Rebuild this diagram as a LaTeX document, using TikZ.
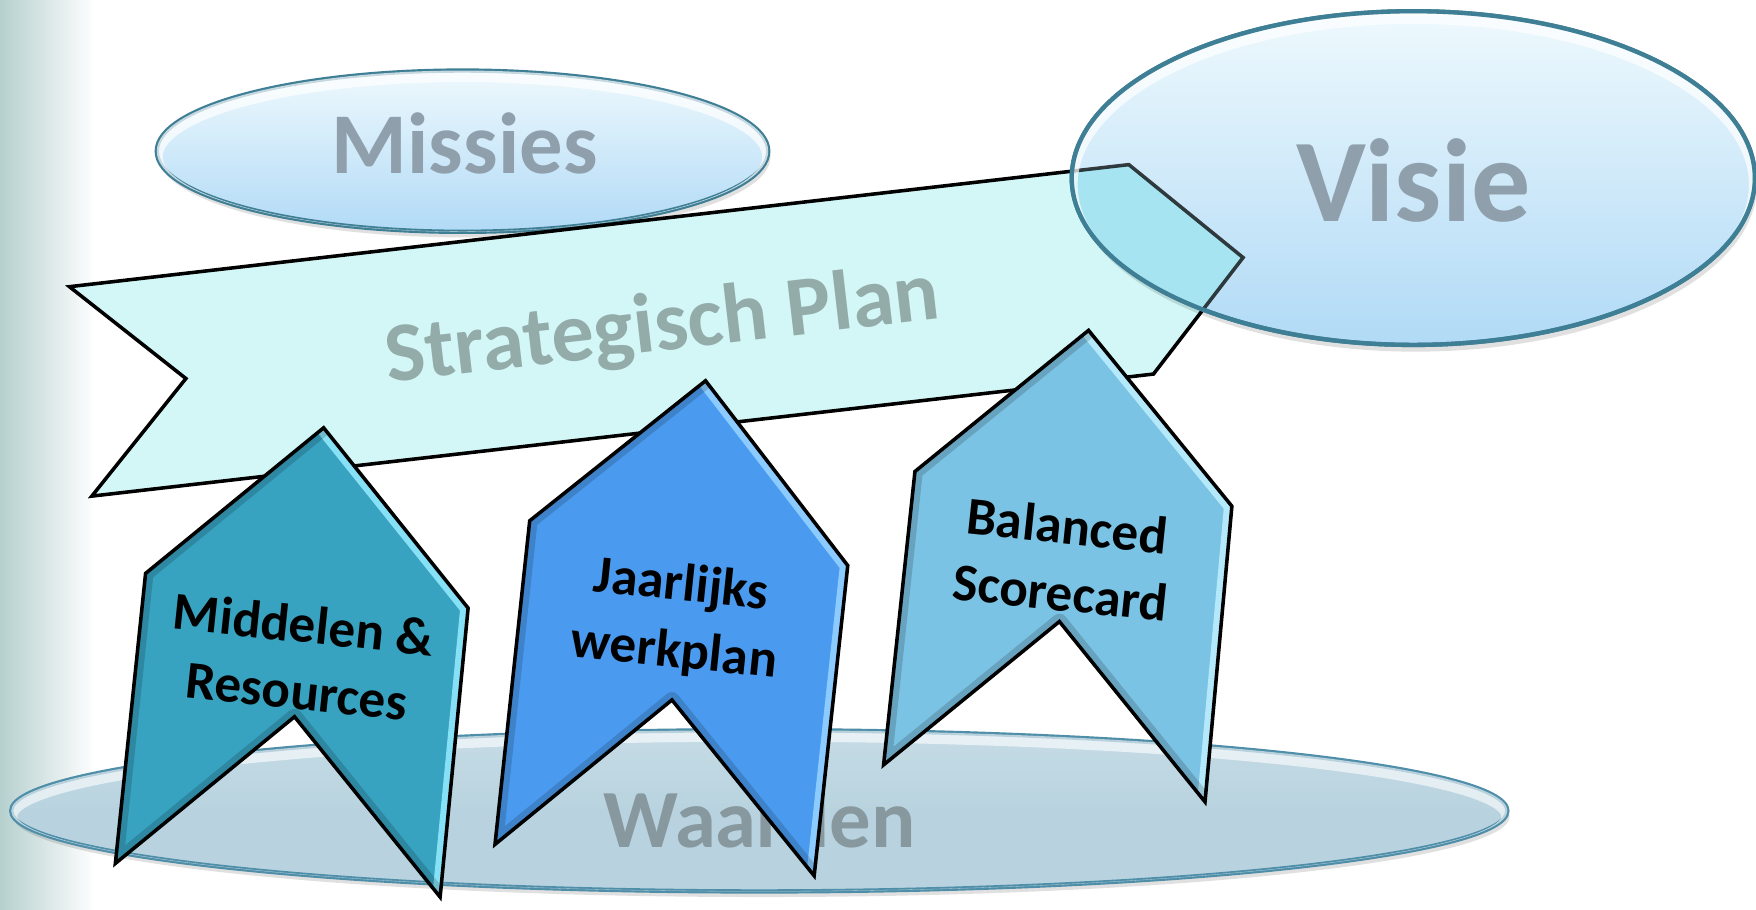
\documentclass[tikz,border=0pt]{standalone}
\usepackage{fontspec}
\setmainfont{Carlito}
\definecolor{bgteal}{HTML}{B6D0CE}
\definecolor{ovtop}{HTML}{EEF9FD}
\definecolor{ovbot}{HTML}{B1DAF6}
\definecolor{ovline}{HTML}{3F7F95}
\definecolor{striptxt}{HTML}{93ACAA}
\definecolor{graytxt}{HTML}{8FA0AC}
\definecolor{stripfill}{HTML}{D3F7F7}
\definecolor{stripov}{HTML}{A6E4F1}
\definecolor{waarfill}{HTML}{B8D3DF}
\definecolor{waarline}{HTML}{4E8EA8}
\definecolor{waartxt}{HTML}{87989F}
\definecolor{arA}{HTML}{37A3C1}
\definecolor{arB}{HTML}{4A9BF0}
\definecolor{arC}{HTML}{7BC3E4}
\definecolor{hlA}{HTML}{86E0F6}
\definecolor{hlB}{HTML}{8CCBFF}
\definecolor{hlC}{HTML}{B4E9FB}
\newcommand\chevup[8]{%
  \begin{scope}
    \clip #3--#4--#5--#6--#7--#8--cycle;
    \fill[#1] #3--#4--#5--#6--#7--#8--cycle;
    \draw[#2, line width=4pt] #3--#4--#5;
    \draw[black, opacity=.16, line width=4pt, line join=round] #5--#6--#7--#8--#3;
  \end{scope}
  \draw[line width=0.9pt, line join=miter] #3--#4--#5--#6--#7--#8--cycle;
}
\tikzset{
  ovalshape/.style={draw=ovline, line width=1.1pt, top color=ovtop, bottom color=ovbot},
  ovshadow/.style={fill=black, opacity=.12},
  bigtxt/.style={text=graytxt, font=\fontsize{22}{26}\selectfont\bfseries, inner sep=0pt},
  arrtxt/.style={text=black, align=center, inner sep=0pt, font=\fontsize{13.5}{17}\selectfont\bfseries},
}
\begin{document}
\begin{tikzpicture}[x=0.01cm,y=-0.01cm]
\useasboundingbox (0,0) rectangle (1568,812);
\shade[left color=bgteal, right color=white] (0,0) rectangle (85,812);

% Waarden
\fill[ovshadow] (680,729) ellipse [x radius=668, y radius=72];
\path[draw=waarline, line width=1.1pt, top color=waarfill!80!white, bottom color=waarfill, middle color=waarfill] (678,724) ellipse [x radius=668, y radius=72];
\begin{scope}
  \clip (678,724) ellipse [x radius=668, y radius=72];
  \draw[white, opacity=.6, line width=3pt] (678,729) ellipse [x radius=668, y radius=72];
\end{scope}
\node[bigtxt, text=waartxt, font=\fontsize{21}{25}\selectfont\bfseries, anchor=base] (waarden) at (678,757) {Waarden};

% Missies
\fill[ovshadow] (415,140) ellipse [x radius=273, y radius=72];
\path[ovalshape] (413,135) ellipse [x radius=273, y radius=72];
\begin{scope}
  \clip (413,135) ellipse [x radius=273, y radius=72];
  \draw[white, opacity=.7, line width=3pt] (413,140) ellipse [x radius=273, y radius=72];
\end{scope}
\node[bigtxt, anchor=base] (missies) at (415,155) {Missies};

% Strategisch Plan strip
\draw[fill=stripfill, line width=0.9pt, line join=miter] (62,256) -- (1008,147) -- (1110,230) -- (1030,334) -- (82,443) -- (166,338) -- cycle;
\node[text=striptxt, font=\fontsize{21.5}{25}\selectfont\bfseries, rotate=6.6, anchor=base, inner sep=0pt] (plan) at (594,313) {Strategisch Plan};

% Visie
\fill[ovshadow] (1264,165) ellipse [x radius=305, y radius=149];
\path[ovalshape] (1262,159) ellipse [x radius=305, y radius=149];
\begin{scope}
  \clip (1262,159) ellipse [x radius=305, y radius=149];
  \fill[stripov] (62,256) -- (1008,147) -- (1110,230) -- (1030,334) -- (82,443) -- (166,338) -- cycle;
  \draw[line width=0.9pt, opacity=.75, line join=miter] (62,256) -- (1008,147) -- (1110,230) -- (1030,334) -- (82,443) -- (166,338) -- cycle;
  \draw[white, opacity=.7, line width=3pt] (1262,165) ellipse [x radius=305, y radius=149];
\end{scope}
\draw[ovline, line width=1.1pt] (1262,159) ellipse [x radius=305, y radius=149];
\node[bigtxt, font=\fontsize{30}{34}\selectfont\bfseries, anchor=base] (visie) at (1262,198) {Visie};

% Arrows
\chevup{arA}{hlA}{(289,382)}{(418,543)}{(393,801)}{(263,640)}{(103,771)}{(130,512)}
\chevup{arB}{hlB}{(630,340)}{(757,505)}{(727,782)}{(600,625)}{(442,754)}{(473,465)}
\chevup{arC}{hlC}{(972,295)}{(1100,452)}{(1076,716)}{(946,555)}{(789,683)}{(817,421)}

\node[arrtxt, rotate=-6] (middelen) at (268,587) {Middelen \&\\Resources};
\node[arrtxt, rotate=-6] (jaarlijks) at (605,553) {Jaarlijks\\werkplan};
\node[arrtxt, rotate=-6] (balanced) at (950,499) {Balanced\\Scorecard};
\end{tikzpicture}
\end{document}
